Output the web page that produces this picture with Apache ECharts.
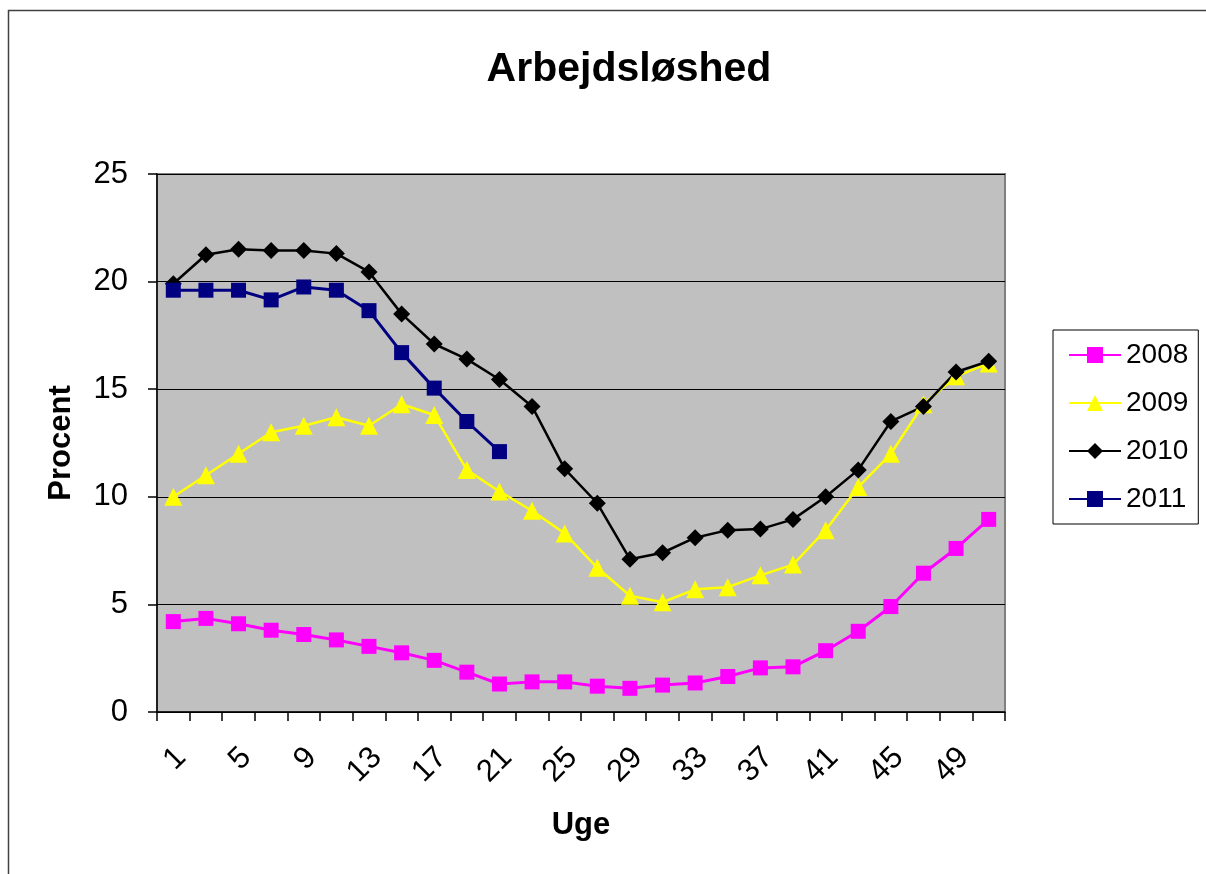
<!DOCTYPE html>
<html>
<head>
<meta charset="utf-8">
<script src="https://cdn.jsdelivr.net/npm/echarts@6/dist/echarts.min.js"></script>
<style>
html,body{margin:0;padding:0;background:#fff;}
#chart{width:1206px;height:874px;}
</style>
</head>
<body>
<div id="chart"></div>
<script>
var weeks = ['1','3','5','7','9','11','13','15','17','19','21','23','25','27','29','31','33','35','37','39','41','43','45','47','49','51'];
var s2008 = [4.2,4.35,4.1,3.8,3.6,3.35,3.05,2.75,2.4,1.85,1.3,1.4,1.4,1.2,1.1,1.25,1.35,1.65,2.05,2.1,2.85,3.75,4.9,6.45,7.6,8.95];
var s2009 = [10.0,11.0,12.0,13.0,13.3,13.7,13.3,14.3,13.8,11.25,10.25,9.35,8.3,6.7,5.4,5.1,5.7,5.8,6.35,6.85,8.45,10.45,12.0,14.3,15.6,16.2];
var s2010 = [19.9,21.25,21.5,21.45,21.45,21.3,20.45,18.5,17.1,16.4,15.45,14.2,11.3,9.7,7.1,7.4,8.1,8.45,8.5,8.95,10.0,11.25,13.5,14.2,15.8,16.3];
var s2011 = [19.6,19.6,19.6,19.15,19.75,19.6,18.65,16.7,15.05,13.5,12.1];
var yTicks = [0,5,10,15,20,25];

var chart = echarts.init(document.getElementById('chart'));
var font = 'Liberation Sans, Arial, sans-serif';
chart.setOption({
  animation: false,
  backgroundColor: '#ffffff',
  textStyle: {fontFamily: font},
  title: {
    text: 'Arbejdsløshed',
    left: 624, top: 44, textAlign: 'center',
    textStyle: {fontSize: 41, fontWeight: 'bold', color: '#000', fontFamily: font}
  },
  graphic: [{
    type: 'rect', silent: true, z: -10,
    shape: {x: 8.5, y: 10.5, width: 1400, height: 1000},
    style: {fill: 'none', stroke: '#404040', lineWidth: 1.5}
  }],
  legend: {
    orient: 'vertical', left: 1053, top: 330,
    padding: [11, 10, 11, 15], itemGap: 20, itemWidth: 52, itemHeight: 20,
    backgroundColor: '#ffffff', borderColor: '#000', borderWidth: 1,
    textStyle: {fontSize: 28, color: '#000', fontFamily: font, lineHeight: 28},
    data: ['2008','2009','2010','2011']
  },
  grid: {left: 157, right: 201, top: 174, bottom: 162, show: true, backgroundColor: '#c0c0c0', borderColor: '#808080', borderWidth: 2},
  xAxis: {
    type: 'category', data: weeks, boundaryGap: true,
    name: 'Uge', nameLocation: 'middle', nameGap: 98,
    nameTextStyle: {fontSize: 31, fontWeight: 'bold', color: '#000', fontFamily: font},
    axisLine: {lineStyle: {color: '#000', width: 1.5}},
    axisTick: {show: true, interval: 0, length: 9, lineStyle: {color: '#000', width: 1.5}},
    axisLabel: {interval: 1, rotate: 45, margin: 33, verticalAlign: 'top', lineHeight: 22, fontSize: 31, color: '#000', fontFamily: font},
    splitLine: {show: false}
  },
  yAxis: {
    type: 'value', min: yTicks[0], max: yTicks[yTicks.length-1], interval: 5,
    name: 'Procent', nameLocation: 'middle', nameGap: 80, nameRotate: 90,
    nameTextStyle: {fontSize: 31, fontWeight: 'bold', color: '#000', fontFamily: font},
    axisLine: {show: true, lineStyle: {color: '#000', width: 1.5}},
    axisTick: {show: true, length: 9, lineStyle: {color: '#000', width: 1.5}},
    axisLabel: {margin: 29, fontSize: 31, color: '#000', fontFamily: font},
    splitLine: {show: true, lineStyle: {color: '#000', width: 1}}
  },
  series: [
    {name: '2008', type: 'line', data: s2008, symbol: 'rect', symbolSize: 15,
     itemStyle: {color: '#ff00ff'}, lineStyle: {color: '#ff00ff', width: 3}},
    {name: '2009', type: 'line', data: s2009, symbol: 'triangle', symbolSize: 18,
     itemStyle: {color: '#ffff00'}, lineStyle: {color: '#ffff00', width: 2.5}},
    {name: '2010', type: 'line', data: s2010, symbol: 'diamond', symbolSize: 17,
     itemStyle: {color: '#000000'}, lineStyle: {color: '#000000', width: 2.5}},
    {name: '2011', type: 'line', data: s2011, symbol: 'rect', symbolSize: 15,
     itemStyle: {color: '#000080'}, lineStyle: {color: '#000080', width: 3}}
  ]
});
</script>
</body>
</html>
